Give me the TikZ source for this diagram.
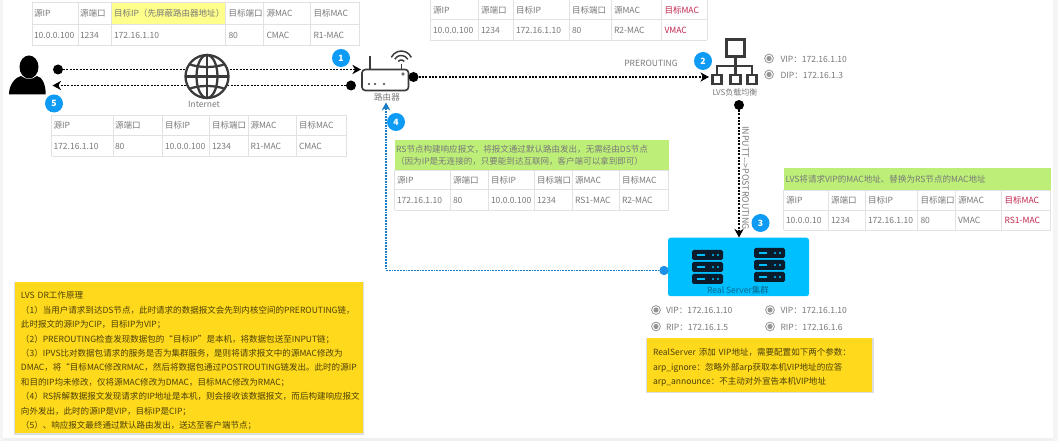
\documentclass[tikz,border=0pt]{standalone}
\usepackage{fontspec}
\setmainfont{Noto Sans CJK SC}
\usetikzlibrary{arrows.meta}
\definecolor{txt}{HTML}{7A7A7A}
\definecolor{tline}{HTML}{E2E2E2}
\definecolor{redt}{HTML}{C2284E}
\definecolor{badge}{HTML}{0E9BF5}
\definecolor{hlgreen}{HTML}{BCEE78}
\definecolor{hlyellow}{HTML}{FFFF8C}
\definecolor{notey}{HTML}{FFD91C}
\definecolor{cyanbox}{HTML}{00BFFF}
\definecolor{navy}{HTML}{0A1C2C}
\definecolor{icon}{HTML}{3A3A3A}
\definecolor{retblue}{HTML}{1E90E8}
\tikzset{
  x=0.75pt,y=-0.75pt,
  every node/.style={inner sep=0pt,outer sep=0pt},
  basefont/.style={font=\fontsize{6.4}{8}\selectfont,text=txt},
  cell/.style={basefont,anchor=west},
  grid line/.style={draw=tline,line width=0.5pt},
  dotn/.style={circle,fill=black,minimum size=7.5pt},
  flow/.style={line width=0.85pt,dash pattern=on 1.6pt off 0.9pt,-{Stealth[length=6.5pt,width=7pt]}},
  retflow/.style={line width=0.85pt,dash pattern=on 1.3pt off 0.8pt,color=retblue!85!black,-{Stealth[length=6pt,width=6.5pt]}},
  badgen/.style={circle,fill=badge,minimum size=13.5pt,text=white,font=\fontsize{6.5}{8}\selectfont\bfseries},
  lab/.style={basefont},
  note/.style={fill=notey,anchor=north west,align=left,font=\fontsize{6.4}{10.8}\selectfont,text=black!70!notey},
  shadowbox/.style={fill=black,opacity=0.13},
}
\newcommand{\gridtbl}[6]{% x-list, y-list, xmin, xmax, ymin, ymax
  \foreach \gx in {#1} \draw[grid line] (\gx,#5) -- (\gx,#6);
  \foreach \gy in {#2} \draw[grid line] (#3,\gy) -- (#4,\gy);
}
\newcommand{\tcells}[3]{\foreach \cx/\ct [count=\ci] in {#3} \node[cell] (#1-\ci) at (\cx,#2) {\ct};}
\newcommand{\radio}[3]{%
  \node[circle,draw=txt!80,line width=0.6pt,minimum size=6.6pt] (#1) at (#2,#3) {};
  \fill[txt!80] (#2,#3) circle[radius=2.6];
}
\newcommand{\serverunit}[2]{%
  \fill[navy,rounded corners=1.2pt] (#1,#2) rectangle ++(31,10);
  \fill[cyanbox] (#1+4.5,#2+4) rectangle ++(8,2);
  \fill[cyanbox] (#1+21,#2+5) circle[radius=1.1];
  \fill[cyanbox] (#1+26,#2+5) circle[radius=1.1];
}
\begin{document}
\begin{tikzpicture}
\useasboundingbox (0,0) rectangle (1058,441);
\fill[white] (0,0) rectangle (1058,441);
\fill[black!6] (0,438.5) rectangle (1058,441);
\fill[black!4] (0,0) rectangle (2.5,441);
\fill[black!4] (1052.5,0) rectangle (1058,441);

% table 1
\fill[hlyellow] (111.5,2.5) rectangle (225.5,24.5);
\gridtbl{32,78,111.5,225.5,263.5,310.5,359.5}{2.5,24.5,45.5}{32}{359.5}{2.5}{45.5}
\tcells{ta}{13.5}{34/源IP,80/源端口,114/目标IP（先屏蔽路由器地址）,228.5/目标端口,266.5/源MAC,313.5/目标MAC}
\tcells{tb}{35}{34/10.0.0.100,80/1234,114/172.16.1.10,228.5/80,266.5/CMAC,313.5/R1-MAC}

% table 2
\gridtbl{430,478,513,569,611,661.5,707}{19,40}{430}{707}{-1}{40}
\tcells{tc}{10}{433/源IP,481/源端口,516/目标IP,572/目标端口,614/源MAC,664.5/\textcolor{redt}{目标MAC}}
\tcells{td}{30}{433/10.0.0.100,481/1234,516/172.16.1.10,572/80,614/R2-MAC,664.5/\textcolor{redt}{VMAC}}

% table 5
\gridtbl{51.5,113,162.5,209.5,248,296.5,346.5}{115.5,135.5,156}{51.5}{346.5}{115.5}{156}
\tcells{te}{125.5}{53.5/源IP,115/源端口,165/目标IP,212/目标端口,250.5/源MAC,299/目标MAC}
\tcells{tf}{146}{53.5/172.16.1.10,115/80,165/10.0.0.100,212/1234,250.5/R1-MAC,299/CMAC}

% table 4
\node[fill=hlgreen,minimum width=205.5pt,minimum height=22pt,anchor=north west,align=left,font=\fontsize{6.4}{9.2}\selectfont,text=txt,text width=203pt] (tgh) at (394.5,140.5) {RS节点构建响应报文，将报文通过默认路由发出，无需经由DS节点\\（因为IP是无连接的，只要能到达互联网，客户端可以拿到即可）};
\gridtbl{394.5,450.5,488.5,534,572.5,619,668.5}{170,189.5,210}{394.5}{668.5}{170}{210}
\tcells{tg}{180}{397/源IP,453/源端口,491/目标IP,537/目标端口,575/源MAC,622/目标MAC}
\tcells{th}{200}{397/172.16.1.10,453/80,491/10.0.0.100,537/1234,575/RS1-MAC,622/R2-MAC}

% table 3
\node[fill=hlgreen,minimum width=200.25pt,minimum height=16.1pt,anchor=north west,text=txt,font=\fontsize{6.4}{8}\selectfont,align=left,text width=197pt] (tih) at (783.5,168.5) {LVS将请求VIP的MAC地址、替换为RS节点的MAC地址};
\gridtbl{783.5,828,865.5,917.5,955.5,1001.5,1050.5}{190,210.8,230.5}{783.5}{1050.5}{190}{230.5}
\tcells{ti}{200.5}{786/源IP,831/源端口,868/目标IP,920.5/目标端口,958/源MAC,1004.5/\textcolor{redt}{目标MAC}}
\tcells{tj}{220.5}{786/10.0.0.10,831/1234,868/172.16.1.10,920.5/80,958/VMAC,1004.5/\textcolor{redt}{RS1-MAC}}

% person
\fill[black] (29,67) ellipse[x radius=9.5,y radius=11.5];
\fill[black] (9,94.3) .. controls (9,84) and (16,77) .. (21,76) .. controls (26,80) and (32,80) .. (37,76) .. controls (42,77) and (45.7,84) .. (45.7,94.3) -- cycle;

% client / router flows
\node[dotn] (d1) at (58,69.5) {};
\coordinate (a1) at (361,69.5);
\node[dotn] (d2) at (351,85.5) {};
\coordinate (a2) at (52.5,85.5);
\draw[flow] (d1) -- (a1);
\draw[flow] (d2) -- (a2);

% globe
\begin{scope}[line width=1.7pt,draw=icon]
\fill[white] (207,76.5) circle[radius=22];
\draw (207,76.5) circle[radius=21.5];
\draw (207,76.5) ellipse[x radius=10.5,y radius=21.5];
\draw (207,55) -- (207,98);
\draw (185.5,76.5) -- (228.5,76.5);
\draw (189,64) .. controls (198,68) and (216,68) .. (225,64);
\draw (189,89) .. controls (198,85) and (216,85) .. (225,89);
\end{scope}
\node[lab] (inet) at (204,104) {Internet};

% router
\draw[icon,line width=1.2pt,rounded corners=2.5pt] (362,69.5) rectangle (408.5,90.5);
\draw[icon,line width=1.1pt] (370,69.5) -- (370,56);
\foreach \dx in {369,375,384} \fill[icon] (\dx,84) circle[radius=1.2];
\fill[icon!70] (403,74) circle[radius=1.8];
\draw[icon,line width=1.1pt] (401.3,62) ++(205:11) arc[start angle=205,end angle=335,radius=11];
\draw[icon,line width=1.1pt] (401.3,63) ++(210:7.5) arc[start angle=210,end angle=330,radius=7.5];
\draw[icon,line width=1.1pt] (401.3,64) ++(220:4) arc[start angle=220,end angle=320,radius=4];
\draw[icon,line width=1.1pt] (401.3,64) -- (401.3,69);
\node[lab] (rlabel) at (387,97.5) {路由器};

% router -> LVS
\node[dotn] (d3) at (413.5,77) {};
\coordinate (a3) at (709,77);
\draw[flow] (d3) -- (a3);
\node[lab] (pre) at (651,63.5) {PREROUTING};

% LVS icon
\begin{scope}[line width=1.9pt,draw=icon]
\draw (726.5,39.5) rectangle (744.5,56.5);
\draw (735.5,56.5) -- (735.5,74);
\draw (717,74.5) -- (717,66) -- (752,66) -- (752,74.5);
\draw (712.5,75) rectangle (721.5,84);
\draw (730.5,75) rectangle (740.5,84);
\draw (747.5,75) rectangle (756.5,84);
\end{scope}
\node[lab,font=\fontsize{6}{8}\selectfont] (lvs) at (735,92.5) {LVS负载均衡};
\radio{r1}{769}{58.5}
\radio{r2}{769}{74.5}
\node[cell] (vip0) at (780.5,59) {VIP：172.16.1.10};
\node[cell] (dip0) at (780.5,75.5) {DIP：172.16.1.3};

% server group
\node[fill=cyanbox,rounded corners=2pt,minimum width=105.75pt,minimum height=43.9pt,anchor=north west] (rs) at (668,237.7) {};
\serverunit{692}{250}
\serverunit{692}{262}
\serverunit{692}{274}
\serverunit{754}{248}
\serverunit{754}{260}
\serverunit{754}{272}
\node[font=\fontsize{6.4}{8}\selectfont,text=black!45!cyanbox] (rslab) at (738,290.5) {Real Server集群};

% LVS -> RS
\node[dotn] (d4) at (739,105) {};
\coordinate (a4) at (739,237.5);
\draw[flow] (d4) -- (a4);
\node[lab,rotate=-90,font=\fontsize{6.6}{8}\selectfont] (chain) at (745.5,178) {INPUTT\mbox{-}\mbox{-}>POSTROUTING};

% RS -> router
\node[circle,fill=retblue,minimum size=7pt] (d5) at (664,270.5) {};
\coordinate (a5) at (386,102.5);
\draw[retflow] (d5) -- (386,270.5) -- (a5);

% rs addresses
\radio{r3}{656}{310}
\radio{r4}{656}{326.5}
\radio{r5}{770}{310}
\radio{r6}{770}{326.5}
\node[cell] (v1) at (666,310.5) {VIP：172.16.1.10};
\node[cell] (v2) at (666,327) {RIP：172.16.1.5};
\node[cell] (v3) at (780.5,310.5) {VIP：172.16.1.10};
\node[cell] (v4) at (780.5,327) {RIP：172.16.1.6};

% badges
\node[badgen] (b1) at (341,58) {1};
\node[badgen] (b2) at (703,61) {2};
\node[badgen] (b3) at (760.5,223) {3};
\node[badgen] (b4) at (396,122) {4};
\node[badgen] (b5) at (54,103.5) {5};

% notes
\fill[shadowbox] (646,338) rectangle (873.5,393.5);
\node[note,minimum width=168.75pt,minimum height=40.5pt,text width=160pt,inner xsep=4.5pt] (n1) at (647,338) {\rule{0pt}{9.5pt}RealServer 添加 VIP地址，需要配置如下两个参数：\\arp\_ignore：忽略外部arp获取本机VIP地址的应答\\arp\_announce：不主动对外宣告本机VIP地址};
\fill[shadowbox] (14,282) rectangle (363.5,435);
\node[note,minimum width=260.25pt,minimum height=113.5pt,text width=252pt,inner xsep=4.5pt] (n2) at (15,282) {\rule{0pt}{10pt}LVS DR工作原理\\（1）当用户请求到达DS节点，此时请求的数据报文会先到内核空间的PREROUTING链，\\此时报文的源IP为CIP，目标IP为VIP；\\（2）PREROUTING检查发现数据包的“目标IP”是本机，将数据包送至INPUT链；\\（3）IPVS比对数据包请求的服务是否为集群服务，是则将请求报文中的源MAC修改为\\DMAC，将“目标MAC修改RMAC，然后将数据包通过POSTROUTING链发出。此时的源IP\\和目的IP均未修改，仅将源MAC修改为DMAC，目标MAC修改为RMAC；\\（4）RS拆解数据报文发现请求的IP地址是本机，则会接收该数据报文，而后构建响应报文\\向外发出，此时的源IP是VIP，目标IP是CIP；\\（5）、响应报文最终通过默认路由发出，送达至客户端节点；};
\end{tikzpicture}
\end{document}
